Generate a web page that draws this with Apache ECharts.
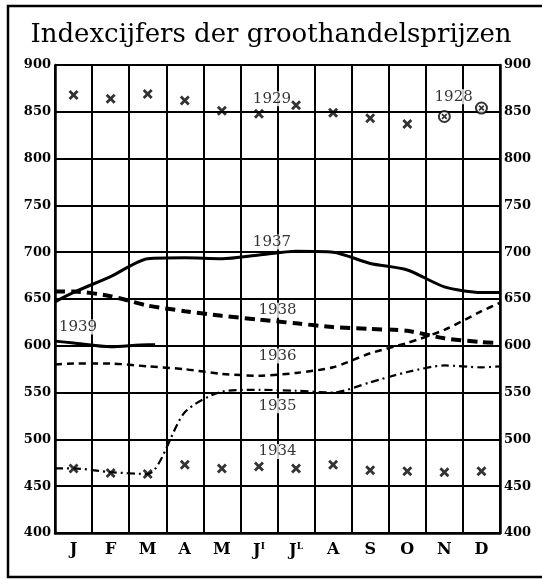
<!DOCTYPE html>
<html><head><meta charset="utf-8">
<script src="https://cdn.jsdelivr.net/npm/echarts@6/dist/echarts.min.js"></script>
<style>html,body{margin:0;padding:0;background:#fff}#c{width:542px;height:580px}</style>
</head><body><div id="c"></div>
<script>
// ---- data ----
const months = ['J','F','M','A','M','JI','JL','A','S','O','N','D'];
const yTicks = [400,450,500,550,600,650,700,750,800,850,900];
// positions (in month-column units, 0 = left edge, 12 = right edge) at which lines were read
const linePos = [0,0.5,1.5,2.5,3.5,4.5,5.5,6.5,7.5,8.5,9.5,10.5,11.5,12];
const v1937 = [647,657,674,693,694,693,697,701,700,688,681,663,657,657];
const v1938 = [658,658,653,643,637,632,628,624,620,618,616,608,604,603];
const v1936 = [580,581,581,578,575,570,568,571,577,592,603,617,637,646];
const v1935 = [469,469,465,463,529,551,553,552,550,561,572,579,577,578];
const pos1939 = [0,0.5,1.5,2.5,2.7];
const v1939 = [605,603,599,601,601];
const v1934 = [469,464,463,473,469,471,469,473,467,466,465,466];
const v1929 = [868,864,869,862,851,848,857,849,843,837,'-','-'];
const v1928 = ['-','-','-','-','-','-','-','-','-','-',845,854];
const yearLabels = [
  {name:'1929', x:5.85, y:864},
  {name:'1928', x:10.75, y:866},
  {name:'1937', x:5.85, y:711},
  {name:'1938', x:6.0, y:638},
  {name:'1939', x:0.62, y:620},
  {name:'1936', x:6.0, y:589},
  {name:'1935', x:6.0, y:536},
  {name:'1934', x:6.0, y:487}
];

const SERIF = '"DejaVu Serif", "Liberation Serif", serif';
const pts = (xs, vs) => xs.map((x,i)=>[x, vs[i]]);
const crossPath = 'path://M2,0 L5,3 L8,0 L10,2 L7,5 L10,8 L8,10 L5,7 L2,10 L0,8 L3,5 L0,2 Z';

const chart = echarts.init(document.getElementById('c'), null, {renderer:'canvas'});
const lineBase = (name, data, width, type) => ({
  name, type:'line', xAxisIndex:1, yAxisIndex:0, data, symbol:'none', smooth:0.25,
  lineStyle:{color:'#000', width, type}, z:3, silent:true
});
const yLabel = {fontFamily:SERIF, fontWeight:'bold', fontSize:13, color:'#000'};
chart.setOption({
  animation:false,
  backgroundColor:'#fff',
  title:{text:'Indexcijfers der groothandelsprijzen', left:'center', top:17,
    textStyle:{fontFamily:SERIF, fontSize:26, fontWeight:'normal', color:'#000'}},
  graphic:[{type:'rect', shape:{x:8,y:6,width:560,height:571}, style:{fill:'none', stroke:'#000', lineWidth:2.5}, z:-1}],
  grid:{left:55, right:42, top:65, bottom:47, show:false},
  xAxis:[
    {type:'category', data:months, boundaryGap:true, position:'bottom',
      axisLine:{show:true, lineStyle:{color:'#000', width:2.5}}, axisTick:{show:false},
      splitLine:{show:true, interval:0, lineStyle:{color:'#000', width:2}},
      axisLabel:{margin:9, interval:0, formatter:v=>{
        if (v==='JI') return '{m|J}{s|I}';
        if (v==='JL') return '{m|J}{s|L}';
        return '{m|'+v+'}';
      }, rich:{
        m:{fontFamily:SERIF, fontWeight:'bold', fontSize:16, color:'#000'},
        s:{fontFamily:SERIF, fontWeight:'bold', fontSize:9, color:'#000', verticalAlign:'top', padding:[0,0,8,0]}
      }}},
    {type:'value', min:0, max:12, show:false}
  ],
  yAxis:[
    {type:'value', min:400, max:900, interval:50, position:'left',
      axisLine:{show:true, lineStyle:{color:'#000', width:2.5}}, axisTick:{show:false},
      splitLine:{show:true, lineStyle:{color:'#000', width:2}},
      axisLabel:Object.assign({margin:4}, yLabel)},
    {type:'value', min:400, max:900, interval:50, position:'right',
      axisLine:{show:true, lineStyle:{color:'#000', width:2.5}}, axisTick:{show:false},
      splitLine:{show:false},
      axisLabel:Object.assign({margin:4}, yLabel)}
  ],
  series:[
    lineBase('1937', pts(linePos, v1937), 3, 'solid'),
    lineBase('1938', pts(linePos, v1938), 4, [10,6]),
    lineBase('1936', pts(linePos, v1936), 2.5, [7,5]),
    lineBase('1935', pts(linePos, v1935), 2.2, [8,4,2,4]),
    lineBase('1939', pts(pos1939, v1939), 3, 'solid'),
    {name:'labels', type:'scatter', xAxisIndex:1, yAxisIndex:0, symbolSize:0, z:4,
      data:yearLabels.map(d=>({name:d.name, value:[d.x,d.y]})),
      label:{show:true, position:'inside', formatter:p=>p.name, fontFamily:SERIF, fontSize:15, color:'#000',
        backgroundColor:'#fff', padding:[0,1]}},
    {name:'1934', type:'scatter', xAxisIndex:0, yAxisIndex:0, data:v1934, symbol:crossPath, symbolSize:10,
      itemStyle:{color:'#000'}, z:5},
    {name:'1929', type:'scatter', xAxisIndex:0, yAxisIndex:0, data:v1929, symbol:crossPath, symbolSize:10,
      itemStyle:{color:'#000'}, z:5},
    {name:'1928o', type:'scatter', xAxisIndex:0, yAxisIndex:0, data:v1928, symbol:'circle', symbolSize:11,
      itemStyle:{color:'#fff', borderColor:'#000', borderWidth:2}, z:5},
    {name:'1928', type:'scatter', xAxisIndex:0, yAxisIndex:0, data:v1928, symbol:crossPath, symbolSize:6,
      itemStyle:{color:'#000'}, z:6}
  ]
});
</script>
</body></html>
